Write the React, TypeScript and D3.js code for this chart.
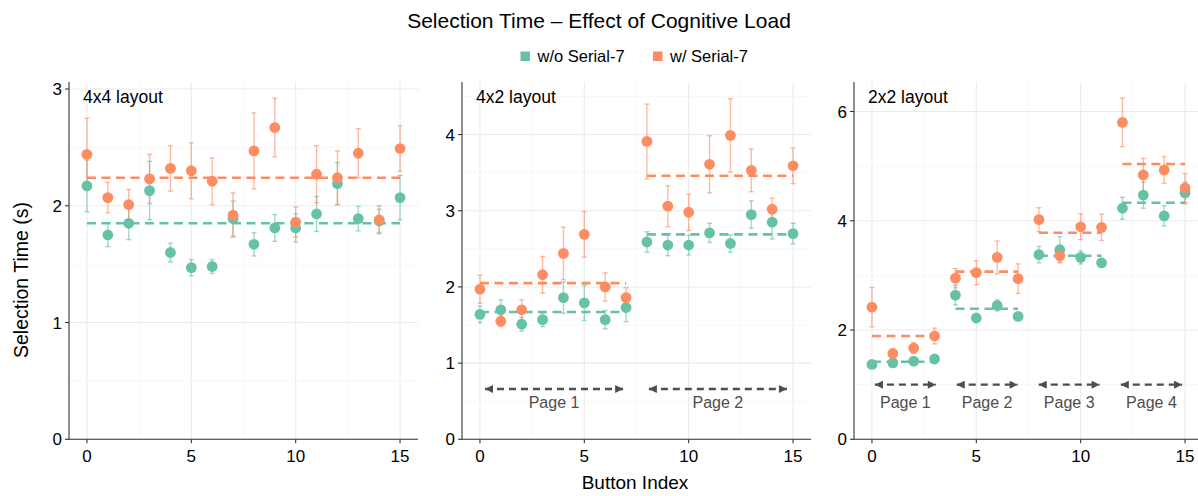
import React from "react";
import * as d3 from "d3";

// button positions on each panel
const buttonIndex = [0, 1, 2, 3, 4, 5, 6, 7, 8, 9, 10, 11, 12, 13, 14, 15];

// 4x4 layout
const layout4x4Without = [2.17, 1.75, 1.85, 2.13, 1.6, 1.47, 1.48, 1.89, 1.67, 1.81, 1.81, 1.93, 2.19, 1.89, 1.87, 2.07];
const layout4x4WithoutErr = [0.22, 0.1, 0.14, 0.25, 0.08, 0.07, 0.06, 0.15, 0.1, 0.115, 0.12, 0.15, 0.18, 0.105, 0.1, 0.19];
const layout4x4With = [2.44, 2.07, 2.01, 2.23, 2.32, 2.3, 2.21, 1.92, 2.47, 2.67, 1.86, 2.27, 2.24, 2.45, 1.88, 2.49];
const layout4x4WithErr = [0.31, 0.13, 0.13, 0.21, 0.195, 0.24, 0.2, 0.19, 0.325, 0.25, 0.13, 0.245, 0.23, 0.21, 0.12, 0.195];
const layout4x4MeanWithout = [1.85];
const layout4x4MeanWith = [2.24];

// 4x2 layout
const layout4x2Without = [1.64, 1.7, 1.51, 1.57, 1.86, 1.79, 1.57, 1.73, 2.59, 2.55, 2.55, 2.71, 2.57, 2.95, 2.85, 2.7];
const layout4x2WithoutErr = [0.11, 0.13, 0.09, 0.09, 0.205, 0.23, 0.12, 0.185, 0.135, 0.14, 0.13, 0.125, 0.115, 0.18, 0.22, 0.135];
const layout4x2With = [1.97, 1.55, 1.7, 2.16, 2.44, 2.69, 2.0, 1.86, 3.91, 3.06, 2.98, 3.61, 3.99, 3.53, 3.02, 3.59];
const layout4x2WithErr = [0.185, 0.07, 0.13, 0.24, 0.345, 0.3, 0.185, 0.13, 0.49, 0.27, 0.24, 0.375, 0.48, 0.28, 0.145, 0.235];
const layout4x2MeanWithout = [1.67, 2.69];
const layout4x2MeanWith = [2.05, 3.46];

// 2x2 layout
const layout2x2Without = [1.37, 1.4, 1.43, 1.47, 2.64, 2.22, 2.45, 2.25, 3.38, 3.47, 3.33, 3.23, 4.23, 4.47, 4.09, 4.51];
const layout2x2WithoutErr = [0.05, 0.05, 0.06, 0.08, 0.18, 0.07, 0.1, 0.06, 0.15, 0.24, 0.12, 0.08, 0.2, 0.24, 0.185, 0.2];
const layout2x2With = [2.42, 1.57, 1.67, 1.89, 2.95, 3.05, 3.33, 2.94, 4.02, 3.36, 3.89, 3.88, 5.8, 4.84, 4.93, 4.6];
const layout2x2WithErr = [0.36, 0.09, 0.1, 0.145, 0.175, 0.22, 0.3, 0.27, 0.22, 0.12, 0.235, 0.24, 0.445, 0.3, 0.245, 0.265];
const layout2x2MeanWithout = [1.42, 2.39, 3.36, 4.33];
const layout2x2MeanWith = [1.89, 3.07, 3.78, 5.04];

// page arrows (start, end in button index units)
const pages4x2Start = [0.05, 7.9];
const pages4x2End = [7.05, 14.9];
const pages2x2Start = [-0.05, 3.87, 7.8, 11.73];
const pages2x2End = [3.25, 7.17, 11.1, 15.05];
const pageLabels = ["Page 1", "Page 2", "Page 3", "Page 4"];

const yTicks4x4 = [0, 1, 2, 3];
const yTicks4x2 = [0, 1, 2, 3, 4];
const yTicks2x2 = [0, 2, 4, 6];
const xTicks = [0, 5, 10, 15];

const seriesNames = ["w/o Serial-7", "w/ Serial-7"];
const GREEN = "#66c2a5";
const ORANGE = "#fc8d62";
const FONT = "'Liberation Sans', Arial, Helvetica, sans-serif";

const W = 1198;
const H = 496;
const TOP = 82;
const BOTTOM = 439.3;
const PANEL_W = 349;

const panels = [
  {
    label: "4x4 layout", left: 69, yMax: 3.06, yTicks: yTicks4x4,
    without: layout4x4Without, withoutErr: layout4x4WithoutErr,
    with: layout4x4With, withErr: layout4x4WithErr,
    meanWithout: layout4x4MeanWithout, meanWith: layout4x4MeanWith,
    pageSize: 16, pageStart: [], pageEnd: [], arrowY: 0, labelY: 0,
  },
  {
    label: "4x2 layout", left: 462, yMax: 4.69, yTicks: yTicks4x2,
    without: layout4x2Without, withoutErr: layout4x2WithoutErr,
    with: layout4x2With, withErr: layout4x2WithErr,
    meanWithout: layout4x2MeanWithout, meanWith: layout4x2MeanWith,
    pageSize: 8, pageStart: pages4x2Start, pageEnd: pages4x2End, arrowY: 0.66, labelY: 0.41,
  },
  {
    label: "2x2 layout", left: 854, yMax: 6.54, yTicks: yTicks2x2,
    without: layout2x2Without, withoutErr: layout2x2WithoutErr,
    with: layout2x2With, withErr: layout2x2WithErr,
    meanWithout: layout2x2MeanWithout, meanWith: layout2x2MeanWith,
    pageSize: 4, pageStart: pages2x2Start, pageEnd: pages2x2End, arrowY: 1.0, labelY: 0.57,
  },
];

function Panel({ p }: { p: any }) {
  const x = d3.scaleLinear().domain([-0.86, 15.86]).range([p.left, p.left + PANEL_W]);
  const y = d3.scaleLinear().domain([0, p.yMax]).range([BOTTOM, TOP]);
  const step = p.yTicks[1] - p.yTicks[0];
  const yMinor = p.yTicks.map((t: number) => t + step / 2).filter((t: number) => t < p.yMax);
  const xMinor = [2.5, 7.5, 12.5];

  const series = [
    { vals: p.without, err: p.withoutErr, means: p.meanWithout, color: GREEN },
    { vals: p.with, err: p.withErr, means: p.meanWith, color: ORANGE },
  ];

  return (
    <g>
      {/* grid */}
      {yMinor.map((t: number) => (
        <line key={"ym" + t} x1={p.left} x2={p.left + PANEL_W} y1={y(t)} y2={y(t)} stroke="#f2f2f2" strokeWidth={0.6} />
      ))}
      {xMinor.map((t) => (
        <line key={"xm" + t} x1={x(t)} x2={x(t)} y1={TOP} y2={BOTTOM} stroke="#f2f2f2" strokeWidth={0.6} />
      ))}
      {p.yTicks.map((t: number) => (
        <line key={"yg" + t} x1={p.left} x2={p.left + PANEL_W} y1={y(t)} y2={y(t)} stroke="#ebebeb" strokeWidth={1.1} />
      ))}
      {xTicks.map((t) => (
        <line key={"xg" + t} x1={x(t)} x2={x(t)} y1={TOP} y2={BOTTOM} stroke="#ebebeb" strokeWidth={1.1} />
      ))}

      {/* page arrows */}
      {p.pageStart.map((s: number, i: number) => (
        <g key={"pg" + i}>
          <line
            x1={x(s) + 4} x2={x(p.pageEnd[i]) - 4} y1={y(p.arrowY)} y2={y(p.arrowY)}
            stroke="#4d4d4d" strokeWidth={2.4} strokeDasharray="7,5"
            markerStart="url(#arrowStart)" markerEnd="url(#arrowEnd)"
          />
          <text x={x((s + p.pageEnd[i]) / 2)} y={y(p.labelY)} textAnchor="middle" fontSize={16} fill="#4d4d4d" fontFamily={FONT}>
            {pageLabels[i]}
          </text>
        </g>
      ))}

      {/* mean lines */}
      {series.map((s, si) =>
        s.means.map((m: number, i: number) => (
          <line
            key={"m" + si + i}
            x1={x(i * p.pageSize)} x2={x(i * p.pageSize + p.pageSize - 1)}
            y1={y(m)} y2={y(m)}
            stroke={s.color} strokeWidth={2.6} strokeDasharray="9,5.5"
          />
        ))
      )}

      {/* error bars */}
      {series.map((s, si) =>
        buttonIndex.map((b) => {
          const v = s.vals[b];
          const e = s.err[b];
          const cx = x(b);
          return (
            <g key={"e" + si + b} stroke={s.color} strokeOpacity={0.6} strokeWidth={1.4}>
              <line x1={cx} x2={cx} y1={y(v - e)} y2={y(v + e)} />
              <line x1={cx - 2.5} x2={cx + 2.5} y1={y(v - e)} y2={y(v - e)} />
              <line x1={cx - 2.5} x2={cx + 2.5} y1={y(v + e)} y2={y(v + e)} />
            </g>
          );
        })
      )}

      {/* points */}
      {series.map((s, si) =>
        buttonIndex.map((b) => (
          <circle key={"p" + si + b} cx={x(b)} cy={y(s.vals[b])} r={5.4} fill={s.color} />
        ))
      )}

      {/* axes */}
      <line x1={p.left} x2={p.left} y1={TOP} y2={BOTTOM} stroke="#333" strokeWidth={1.1} />
      <line x1={p.left} x2={p.left + PANEL_W} y1={BOTTOM} y2={BOTTOM} stroke="#333" strokeWidth={1.1} />
      {p.yTicks.map((t: number) => (
        <g key={"yt" + t}>
          <line x1={p.left - 4} x2={p.left} y1={y(t)} y2={y(t)} stroke="#333" strokeWidth={1.1} />
          <text x={p.left - 7} y={y(t) + 6} textAnchor="end" fontSize={17} fontFamily={FONT} fill="#000">
            {t}
          </text>
        </g>
      ))}
      {xTicks.map((t) => (
        <g key={"xt" + t}>
          <line x1={x(t)} x2={x(t)} y1={BOTTOM} y2={BOTTOM + 4} stroke="#333" strokeWidth={1.1} />
          <text x={x(t)} y={BOTTOM + 22.7} textAnchor="middle" fontSize={17} fontFamily={FONT} fill="#000">
            {t}
          </text>
        </g>
      ))}

      <text x={p.left + 14} y={103.3} fontSize={17.5} fontFamily={FONT} fill="#000">
        {p.label}
      </text>
    </g>
  );
}

export default function App() {
  const legendColors = [GREEN, ORANGE];
  const legendX = [520.5, 653];
  return (
    <div style={{ position: "fixed", left: 0, top: 0 }}>
      <svg width={W} height={H} style={{ display: "block", background: "#fff" }}>
        <defs>
          <marker id="arrowEnd" viewBox="0 0 10 10" refX="10" refY="5" markerWidth="10" markerHeight="8" markerUnits="userSpaceOnUse" orient="auto">
            <path d="M0,0 L10,5 L0,10 Z" fill="#4d4d4d" />
          </marker>
          <marker id="arrowStart" viewBox="0 0 10 10" refX="0" refY="5" markerWidth="10" markerHeight="8" markerUnits="userSpaceOnUse" orient="auto">
            <path d="M10,0 L0,5 L10,10 Z" fill="#4d4d4d" />
          </marker>
        </defs>

        <text x={599} y={27.5} textAnchor="middle" fontSize={21} fontFamily={FONT} fill="#000">
          Selection Time – Effect of Cognitive Load
        </text>

        {seriesNames.map((n, i) => (
          <g key={n}>
            <rect x={legendX[i]} y={51.5} width={9.5} height={9.5} fill={legendColors[i]} />
            <text x={legendX[i] + 17} y={61.5} fontSize={16.5} fontFamily={FONT} fill="#000">
              {n}
            </text>
          </g>
        ))}

        {panels.map((p) => (
          <Panel key={p.label} p={p} />
        ))}

        <text transform="translate(28,280) rotate(-90)" textAnchor="middle" fontSize={19.5} fontFamily={FONT} fill="#000">
          Selection Time (s)
        </text>
        <text x={635} y={489.3} textAnchor="middle" fontSize={19} fontFamily={FONT} fill="#000">
          Button Index
        </text>
      </svg>
    </div>
  );
}
